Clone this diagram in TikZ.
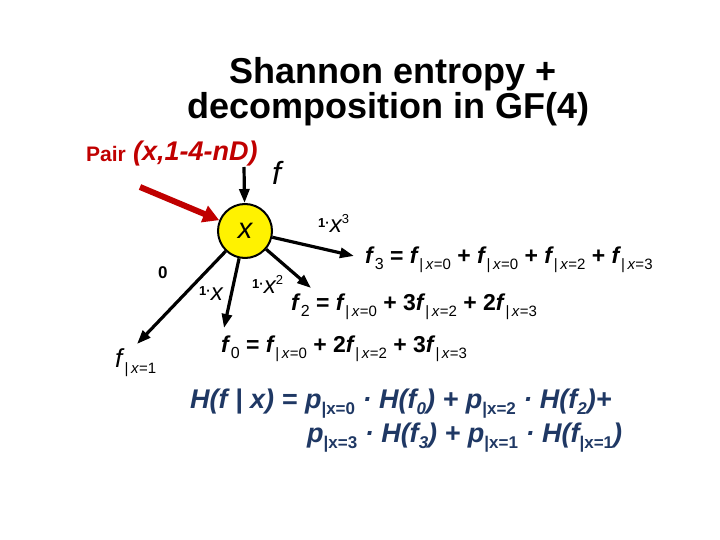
\documentclass[tikz,border=0pt]{standalone}
\usepackage{fontspec}
\setmainfont{Liberation Sans}
\usetikzlibrary{arrows.meta}
\definecolor{pairred}{RGB}{192,0,0}
\definecolor{navy}{RGB}{31,56,100}
\newcommand{\fs}[1]{\fontsize{#1}{#1}\selectfont}
\newcommand{\cnd}[1]{\raisebox{-6pt}{\fs{15}\mdseries\upshape|\,\textit{x}=#1}}
\newcommand{\fc}[1]{\textit{f}\cnd{#1}}
\newcommand{\fn}[1]{\textit{f}\raisebox{-6pt}{\fs{16}\mdseries\upshape #1}}
\newcommand{\lbl}[2]{\raisebox{5pt}{\fs{13}\bfseries 1\textperiodcentered}{\fs{24}\itshape x}\raisebox{9pt}{\fs{13}#2}}
\newcommand{\psb}[1]{\textit{p}\raisebox{-6pt}{\fs{17}\upshape|x=#1}}
\newcommand{\hsb}[1]{\raisebox{-6pt}{\fs{17}#1}}
\begin{document}
\begin{tikzpicture}[x=1pt,y=-1pt,
  txt/.style={anchor=base west, inner sep=0pt},
  edge/.style={line width=3.2pt, -{Triangle[length=14pt,width=10pt]}},
  redarrow/.style={line width=6pt, pairred, -{Triangle[length=16pt,width=17pt]}}]
\useasboundingbox (0,0) rectangle (720,540);
% title
\node (t1) [anchor=base, inner sep=0pt, font=\fs{36}\bfseries] at (393,84) {Shannon entropy +};
\node (t2) [anchor=base, inner sep=0pt, font=\fs{36}\bfseries] at (388,119) {decomposition in GF(4)};
% pair label
\node (pair) [txt, text=pairred, font=\fs{21}\bfseries] at (86,162) {Pair};
\node (pairv) [txt, text=pairred, font=\fs{27}\bfseries\itshape] at (133,161) {(x,1-4-nD)};
\node (f) [txt, font=\fs{32}\itshape] at (272,185) {f};
% central node
\node (x) [circle, draw, line width=2pt, fill=yellow, minimum size=54pt, inner sep=0pt, font=\fs{29}\itshape] at (245,231) {x};
\coordinate (ftop) at (244,167);
\coordinate (rstart) at (140,187);
\coordinate (e1) at (137,344);
\coordinate (e0) at (224,328);
\coordinate (e2) at (311,288);
\coordinate (e3) at (354,256);
\draw[edge] (ftop) -- (x);
\draw[redarrow] (rstart) -- (x);
\draw[edge] (x) -- (e1);
\draw[edge] (x) -- (e0);
\draw[edge] (x) -- (e2);
\draw[edge] (x) -- (e3);
% edge labels
\node (l0) [txt, font=\fs{17}\bfseries] at (158,278) {0};
\node (l1) [txt] at (199,300) {\lbl{}{}};
\node (l2) [txt] at (252,293) {\lbl{}{2}};
\node (l3) [txt] at (318,233) {\lbl{}{3}};
% results
\node (r1) [txt, font=\fs{26}] at (115,367) {\fc{1}};
\node (r3) [txt, font=\fs{23}\bfseries] at (365,263) {\fn{3} = \fc{0} + \fc{0} + \fc{2} + \fc{3}};
\node (r2) [txt, font=\fs{23}\bfseries] at (291,310) {\fn{2} = \fc{0} + 3\fc{2} + 2\fc{3}};
\node (r0) [txt, font=\fs{23}\bfseries] at (221,352) {\fn{0} = \fc{0} + 2\fc{2} + 3\fc{3}};
% entropy
\node (h1) [txt, text=navy, font=\fs{27}\bfseries\itshape] at (190,408) {H(f | x) = \psb{0} \textperiodcentered\ H(f\hsb{0}) + \psb{2} \textperiodcentered\ H(f\hsb{2})+};
\node (h2) [txt, text=navy, font=\fs{27}\bfseries\itshape] at (307,442) {\psb{3} \textperiodcentered\ H(f\hsb{3}) + \psb{1} \textperiodcentered\ H(f\hsb{{\upshape|x=1}})};
\end{tikzpicture}
\end{document}
